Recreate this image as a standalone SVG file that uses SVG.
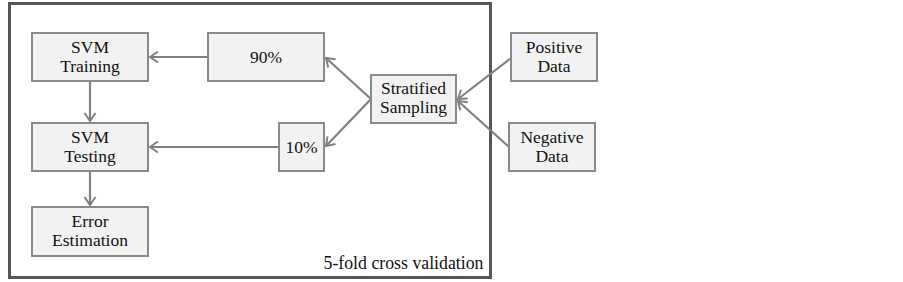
<svg xmlns="http://www.w3.org/2000/svg" width="903" height="282" viewBox="0 0 903 282">
<style>
.box{fill:#f2f2f2;stroke:#8a8a8a;stroke-width:2}
.lbl{font-size:17.5px;fill:#111;text-anchor:middle}
.conn{stroke:#808080;stroke-width:2.2;fill:none;marker-end:url(#arr)}
</style>
<defs>
<marker id="arr" markerUnits="userSpaceOnUse" markerWidth="14" markerHeight="14" refX="10" refY="7" orient="auto">
<path d="M2,1.5 L10,7 L2,12.5" fill="none" stroke="#808080" stroke-width="2"/>
</marker>
</defs>
<rect width="903" height="282" fill="#fff"/>
<g font-family="Liberation Serif, Times New Roman, serif">
<g id="frame">
<rect x="9.5" y="3.5" width="481" height="274" fill="none" stroke="#555" stroke-width="3"/>
<text x="483.5" y="269" font-size="17.8" fill="#111" text-anchor="end">5-fold cross validation</text>
</g>
<g id="connectors">
<line class="conn" x1="208" y1="57" x2="150" y2="57"/>
<line class="conn" x1="90" y1="81" x2="90" y2="121"/>
<line class="conn" x1="279" y1="147" x2="150" y2="147"/>
<line class="conn" x1="90" y1="171" x2="90" y2="205"/>
<line class="conn" x1="371" y1="99" x2="326" y2="58"/>
<line class="conn" x1="371" y1="99" x2="326" y2="146"/>
<line class="conn" x1="511" y1="58" x2="458" y2="99"/>
<line class="conn" x1="509" y1="147" x2="458" y2="101"/>
</g>
<g id="svm-training">
<rect class="box" x="32" y="33" width="116" height="48"/>
<text class="lbl" x="90" y="53">SVM</text>
<text class="lbl" x="90" y="72">Training</text>
</g>
<g id="p90">
<rect class="box" x="208" y="33" width="116" height="48"/>
<text class="lbl" x="266" y="63">90%</text>
</g>
<g id="svm-testing">
<rect class="box" x="32" y="123" width="116" height="48"/>
<text class="lbl" x="90" y="143">SVM</text>
<text class="lbl" x="90" y="162">Testing</text>
</g>
<g id="p10">
<rect class="box" x="279" y="123" width="45" height="48"/>
<text class="lbl" x="301.5" y="153">10%</text>
</g>
<g id="error-estimation">
<rect class="box" x="32" y="207" width="116" height="49"/>
<text class="lbl" x="90" y="227">Error</text>
<text class="lbl" x="90" y="246">Estimation</text>
</g>
<g id="stratified-sampling">
<rect class="box" x="371" y="75" width="85" height="48"/>
<text class="lbl" x="413.5" y="94">Stratified</text>
<text class="lbl" x="413.5" y="113">Sampling</text>
</g>
<g id="positive-data">
<rect class="box" x="511" y="33" width="86" height="48"/>
<text class="lbl" x="554" y="53">Positive</text>
<text class="lbl" x="554" y="72">Data</text>
</g>
<g id="negative-data">
<rect class="box" x="509" y="123" width="86" height="48"/>
<text class="lbl" x="552" y="143">Negative</text>
<text class="lbl" x="552" y="162">Data</text>
</g>
</g>
</svg>
